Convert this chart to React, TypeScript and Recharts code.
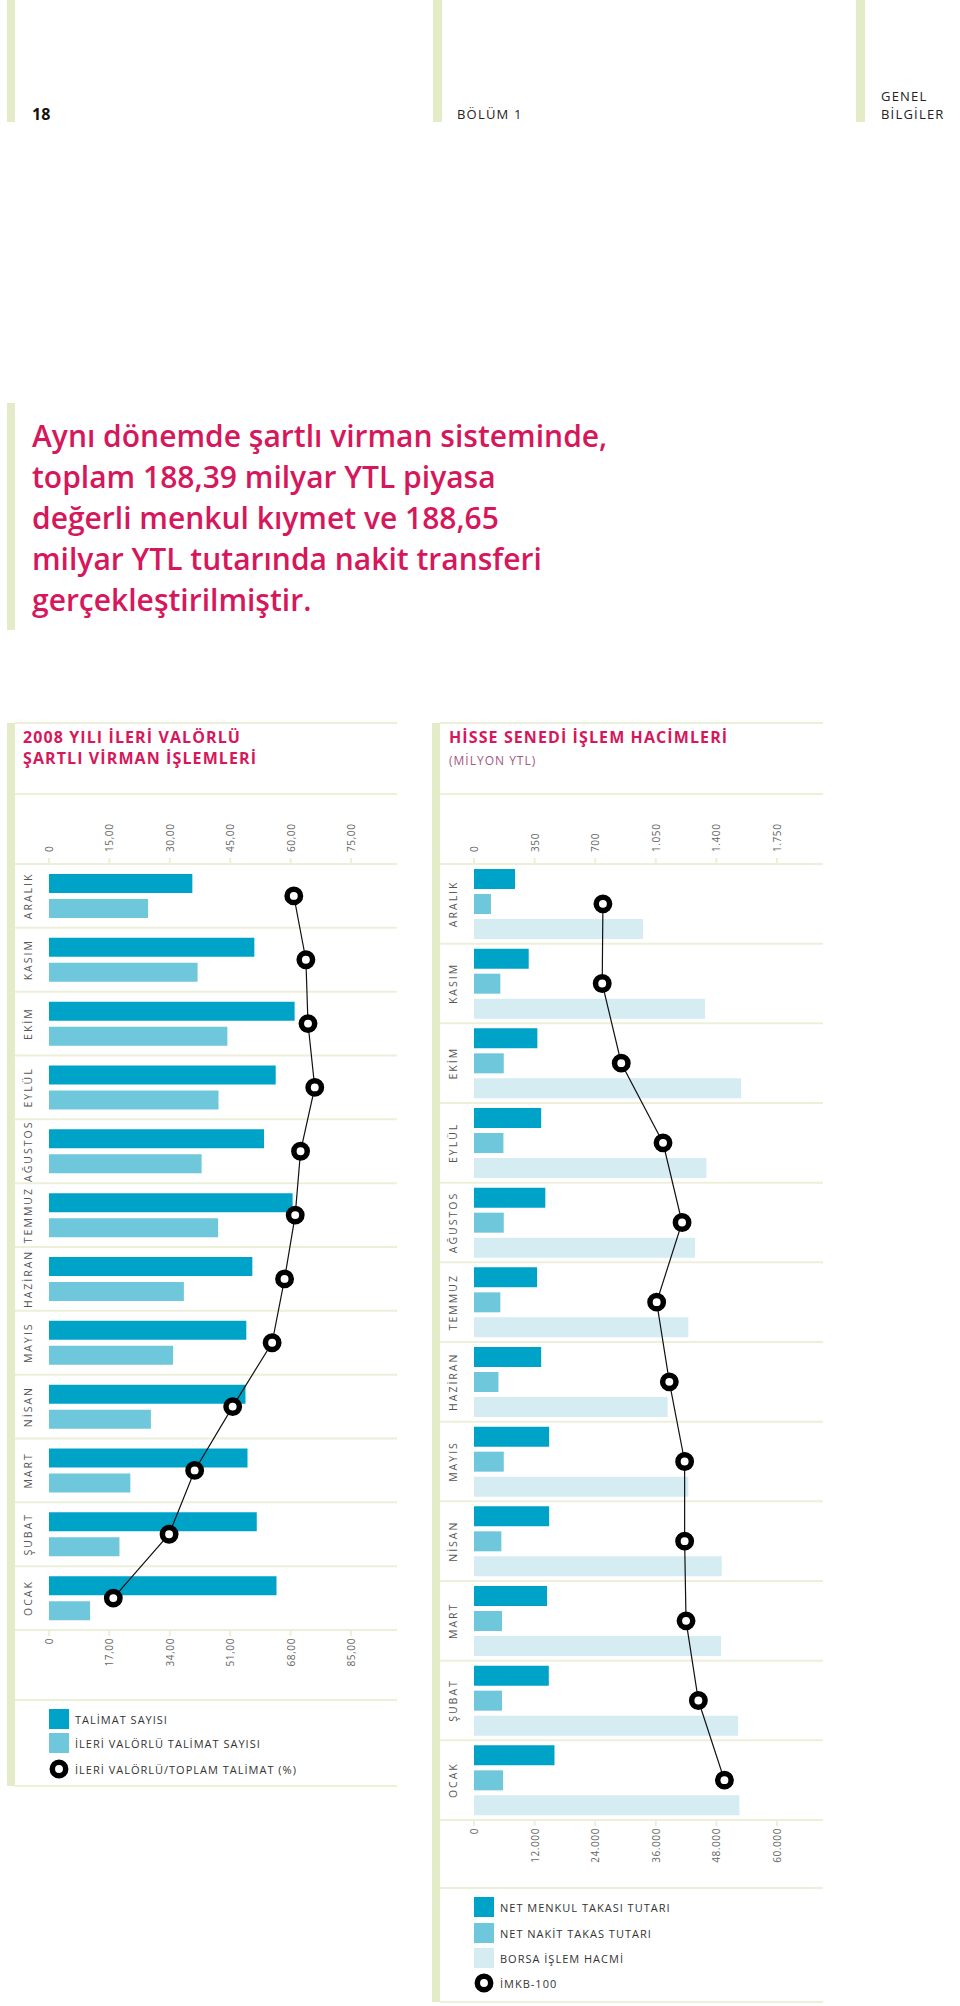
import React from "react";
import { ComposedChart, Bar, Line, XAxis, YAxis, CartesianGrid } from "recharts";

// ── Veriler (grafikte yukarıdan aşağıya sıra) ────────────────────────────────

const aylar = ["ARALIK", "KASIM", "EKİM", "EYLÜL", "AĞUSTOS", "TEMMUZ", "HAZİRAN", "MAYIS", "NİSAN", "MART", "ŞUBAT", "OCAK"];

// sol grafik: ileri valörlü şartlı virman
const talimatSayisi = [35.6, 51.0, 61.0, 56.3, 53.4, 60.5, 50.5, 49.0, 48.8, 49.3, 51.6, 56.5];
const ileriValorlu = [24.6, 36.9, 44.3, 42.1, 37.9, 42.0, 33.5, 30.8, 25.3, 20.2, 17.5, 10.2];
const ileriOran = [68.9, 72.3, 72.9, 74.8, 70.8, 69.3, 66.3, 62.8, 51.7, 41.0, 33.8, 18.1];

// sağ grafik: hisse senedi işlem hacimleri (milyon YTL)
const menkulTakas = [237, 316, 366, 388, 412, 364, 388, 434, 434, 422, 432, 465];
const nakitTakas = [98, 152, 172, 170, 172, 152, 141, 172, 158, 162, 162, 168];
const borsaHacim = [33460, 45760, 52900, 46020, 43780, 42450, 38340, 42450, 49050, 48930, 52300, 52560];
const imkb100 = [25530, 25390, 29160, 37430, 41200, 36170, 38680, 41710, 41710, 41990, 44430, 49590];

const ticksSolUst = [0, 15, 30, 45, 60, 75];
const ticksSolAlt = [0, 17, 34, 51, 68, 85];
const ticksSagUst = [0, 350, 700, 1050, 1400, 1750];
const ticksSagAlt = [0, 12000, 24000, 36000, 48000, 60000];

// ── Renkler / font ───────────────────────────────────────────────────────────

const KOYU = "#00A3C8";
const ACIK = "#6FC7DC";
const SOLUK = "#D5ECF3";
const CIZGI = "#ECF0D9";
const YESIL = "#E3ECC6";
const PEMBE = "#D6175C";
const FONT = "'Open Sans', sans-serif";

const solVeri = aylar.map((ay, i) => ({
  ay,
  talimat: talimatSayisi[i],
  ileri: ileriValorlu[i],
  oran: ileriOran[i],
}));

const sagVeri = aylar.map((ay, i) => ({
  ay,
  menkul: menkulTakas[i],
  nakit: nakitTakas[i],
  borsa: borsaHacim[i],
  imkb: imkb100[i],
}));

// 0 çizgisi panelin solundan içeride; domain'i ona göre aç
function domainFor(lastTick: number, plotW: number, zeroPx: number, lastPx: number): [number, number] {
  const k = lastTick / (lastPx - zeroPx);
  return [-zeroPx * k, (plotW - zeroPx) * k];
}

const virgul2 = (v: number) => (v === 0 ? "0" : v.toFixed(2).replace(".", ","));
const binlik = (v: number) => String(v).replace(/\B(?=(\d{3})+(?!\d))/g, ".");

function UstTick(props: any) {
  const { x, y, payload, fmt } = props;
  return (
    <text transform={`translate(${x},${y}) rotate(-90)`} textAnchor="start" dominantBaseline="central"
      fontSize={10} letterSpacing={0.6} fill="#666" fontFamily={FONT}>
      {fmt(payload.value)}
    </text>
  );
}

function AltTick(props: any) {
  const { x, y, payload, fmt } = props;
  return (
    <text transform={`translate(${x},${y}) rotate(-90)`} textAnchor="end" dominantBaseline="central"
      fontSize={10} letterSpacing={0.6} fill="#666" fontFamily={FONT}>
      {fmt(payload.value)}
    </text>
  );
}

// YAxis 1px genişlikte; etiketler grafiğin içinde, döndürülmüş
function AyTick(props: any) {
  const { x, y, payload } = props;
  return (
    <text transform={`translate(${x + 13},${y}) rotate(-90)`} textAnchor="middle" dominantBaseline="central"
      fontSize={10.5} letterSpacing={2} fill="#555" fontFamily={FONT}>
      {payload.value}
    </text>
  );
}

// satır sınırları (bant kenarları)
const satirSinirlari = ({ offset }: any) => {
  const n = aylar.length;
  return Array.from({ length: n + 1 }, (_, i) => offset.top + (i * offset.height) / n);
};

const dotStil = { r: 6.7, fill: "#fff", stroke: "#000", strokeWidth: 5.5 };

// ── Yardımcı kutular ─────────────────────────────────────────────────────────

function Kutu({ left, top, width, height, bg }: { left: number; top: number; width: number; height: number; bg: string }) {
  return <div style={{ position: "absolute", left, top, width, height, background: bg }} />;
}

function Yazi({ left, top, children, style }: { left: number; top: number; children: React.ReactNode; style?: React.CSSProperties }) {
  return (
    <div style={{ position: "absolute", left, top, whiteSpace: "nowrap", fontFamily: FONT, ...style }}>
      {children}
    </div>
  );
}

function LegendSatir({ left, top, renk, daire, metin }: { left: number; top: number; renk?: string; daire?: boolean; metin: string }) {
  return (
    <div style={{ position: "absolute", left, top, height: 20, display: "flex", alignItems: "center", fontFamily: FONT }}>
      {daire ? (
        <svg width={20} height={20}>
          <circle cx={10} cy={10} r={6.7} fill="#fff" stroke="#000" strokeWidth={5.5} />
        </svg>
      ) : (
        <div style={{ width: 20, height: 20, background: renk }} />
      )}
      <span style={{ marginLeft: 6, fontSize: 11, letterSpacing: 1, color: "#333" }}>{metin}</span>
    </div>
  );
}

// ── Sol grafik ───────────────────────────────────────────────────────────────

function SolGrafik() {
  return (
    <ComposedChart layout="vertical" width={383} height={906} data={solVeri}
      margin={{ top: 0, right: 0, bottom: 0, left: 0 }} barGap={6} barSize={19}>
      <CartesianGrid xAxisId="ust" vertical={false} stroke={CIZGI} strokeWidth={2}
        horizontalCoordinatesGenerator={satirSinirlari} />
      <XAxis xAxisId="ust" orientation="top" type="number" domain={domainFor(75, 382, 34, 336)}
        allowDataOverflow ticks={ticksSolUst} interval={0} height={70} axisLine={false}
        tickSize={6} tickMargin={6} tickLine={{ stroke: CIZGI, strokeWidth: 2 }}
        tick={(p: any) => <UstTick {...p} fmt={virgul2} />} />
      <XAxis xAxisId="alt" orientation="bottom" type="number" domain={domainFor(85, 382, 34, 336)}
        allowDataOverflow ticks={ticksSolAlt} interval={0} height={70} axisLine={false}
        tickSize={6} tickMargin={2} tickLine={{ stroke: CIZGI, strokeWidth: 2 }}
        tick={(p: any) => <AltTick {...p} fmt={virgul2} />} />
      <YAxis type="category" dataKey="ay" width={1} axisLine={false} tickLine={false}
        tickSize={0} tickMargin={0} interval={0} tick={(p: any) => <AyTick {...p} />} />
      <Bar xAxisId="ust" dataKey="talimat" fill={KOYU} isAnimationActive={false} />
      <Bar xAxisId="ust" dataKey="ileri" fill={ACIK} isAnimationActive={false} />
      <Line xAxisId="alt" dataKey="oran" stroke="#111" strokeWidth={1.2} dot={dotStil}
        activeDot={false} isAnimationActive={false} />
    </ComposedChart>
  );
}

// ── Sağ grafik ───────────────────────────────────────────────────────────────

function SagGrafik() {
  return (
    <ComposedChart layout="vertical" width={384} height={1096} data={sagVeri}
      margin={{ top: 0, right: 0, bottom: 0, left: 0 }} barGap={5} barSize={20}>
      <CartesianGrid xAxisId="ust" vertical={false} stroke={CIZGI} strokeWidth={2}
        horizontalCoordinatesGenerator={satirSinirlari} />
      <XAxis xAxisId="ust" orientation="top" type="number" domain={domainFor(1750, 383, 34, 337)}
        allowDataOverflow ticks={ticksSagUst} interval={0} height={70} axisLine={false}
        tickSize={6} tickMargin={6} tickLine={{ stroke: CIZGI, strokeWidth: 2 }}
        tick={(p: any) => <UstTick {...p} fmt={binlik} />} />
      <XAxis xAxisId="alt" orientation="bottom" type="number" domain={domainFor(60000, 383, 34, 337)}
        allowDataOverflow ticks={ticksSagAlt} interval={0} height={70} axisLine={false}
        tickSize={6} tickMargin={2} tickLine={{ stroke: CIZGI, strokeWidth: 2 }}
        tick={(p: any) => <AltTick {...p} fmt={binlik} />} />
      <YAxis type="category" dataKey="ay" width={1} axisLine={false} tickLine={false}
        tickSize={0} tickMargin={0} interval={0} tick={(p: any) => <AyTick {...p} />} />
      <Bar xAxisId="ust" dataKey="menkul" fill={KOYU} isAnimationActive={false} />
      <Bar xAxisId="ust" dataKey="nakit" fill={ACIK} isAnimationActive={false} />
      <Bar xAxisId="alt" dataKey="borsa" fill={SOLUK} isAnimationActive={false} />
      <Line xAxisId="alt" dataKey="imkb" stroke="#111" strokeWidth={1.2} dot={dotStil}
        activeDot={false} isAnimationActive={false} />
    </ComposedChart>
  );
}

// ── Sayfa ────────────────────────────────────────────────────────────────────

export default function App() {
  const baslik: React.CSSProperties = { fontSize: 16, fontWeight: 700, color: PEMBE, letterSpacing: 1.1, lineHeight: "21px" };
  const ust: React.CSSProperties = { fontSize: 13, letterSpacing: 1.2, color: "#222", lineHeight: "18px" };

  return (
    <div style={{ position: "absolute", left: 0, top: 0, width: 960, height: 2006, background: "#fff", overflow: "hidden" }}>
      {/* üst bilgi */}
      <Kutu left={7} top={0} width={8} height={122} bg={YESIL} />
      <Kutu left={433} top={0} width={9} height={122} bg={YESIL} />
      <Kutu left={856} top={0} width={9} height={122} bg={YESIL} />
      <Yazi left={32} top={104} style={{ fontSize: 16, fontWeight: 700, color: "#111", lineHeight: "20px" }}>18</Yazi>
      <Yazi left={457} top={105} style={ust}>BÖLÜM 1</Yazi>
      <Yazi left={881} top={87} style={ust}>GENEL<br />BİLGİLER</Yazi>

      {/* alıntı */}
      <Kutu left={7} top={403} width={8} height={227} bg={YESIL} />
      <Yazi left={32} top={415} style={{ fontSize: 30, fontWeight: 600, color: PEMBE, lineHeight: "41px" }}>
        Aynı dönemde şartlı virman sisteminde,<br />
        toplam 188,39 milyar YTL piyasa<br />
        değerli menkul kıymet ve 188,65<br />
        milyar YTL tutarında nakit transferi<br />
        gerçekleştirilmiştir.
      </Yazi>

      {/* sol panel */}
      <Kutu left={7} top={723} width={8} height={1063} bg={YESIL} />
      <Kutu left={15} top={722} width={382} height={2} bg={CIZGI} />
      <Kutu left={15} top={793} width={382} height={2} bg={CIZGI} />
      <Kutu left={15} top={1699} width={382} height={2} bg={CIZGI} />
      <Kutu left={15} top={1785} width={382} height={2} bg={CIZGI} />
      <Yazi left={23} top={727} style={baslik}>2008 YILI İLERİ VALÖRLÜ<br />ŞARTLI VİRMAN İŞLEMLERİ</Yazi>
      <div style={{ position: "absolute", left: 14, top: 794 }}>
        <SolGrafik />
      </div>
      <LegendSatir left={49} top={1709} renk={KOYU} metin="TALİMAT SAYISI" />
      <LegendSatir left={49} top={1733} renk={ACIK} metin="İLERİ VALÖRLÜ TALİMAT SAYISI" />
      <LegendSatir left={49} top={1759} daire metin="İLERİ VALÖRLÜ/TOPLAM TALİMAT (%)" />

      {/* sağ panel */}
      <Kutu left={432} top={723} width={8} height={1279} bg={YESIL} />
      <Kutu left={440} top={722} width={383} height={2} bg={CIZGI} />
      <Kutu left={440} top={793} width={383} height={2} bg={CIZGI} />
      <Kutu left={440} top={1887} width={383} height={2} bg={CIZGI} />
      <Kutu left={440} top={2001} width={383} height={2} bg={CIZGI} />
      <Yazi left={449} top={727} style={baslik}>HİSSE SENEDİ İŞLEM HACİMLERİ</Yazi>
      <Yazi left={449} top={752} style={{ fontSize: 12, color: "#A5567F", letterSpacing: 1, lineHeight: "18px" }}>(MİLYON YTL)</Yazi>
      <div style={{ position: "absolute", left: 439, top: 794 }}>
        <SagGrafik />
      </div>
      <LegendSatir left={474} top={1897} renk={KOYU} metin="NET MENKUL TAKASI TUTARI" />
      <LegendSatir left={474} top={1923} renk={ACIK} metin="NET NAKİT TAKAS TUTARI" />
      <LegendSatir left={474} top={1948} renk={SOLUK} metin="BORSA İŞLEM HACMİ" />
      <LegendSatir left={474} top={1973} daire metin="İMKB-100" />
    </div>
  );
}
